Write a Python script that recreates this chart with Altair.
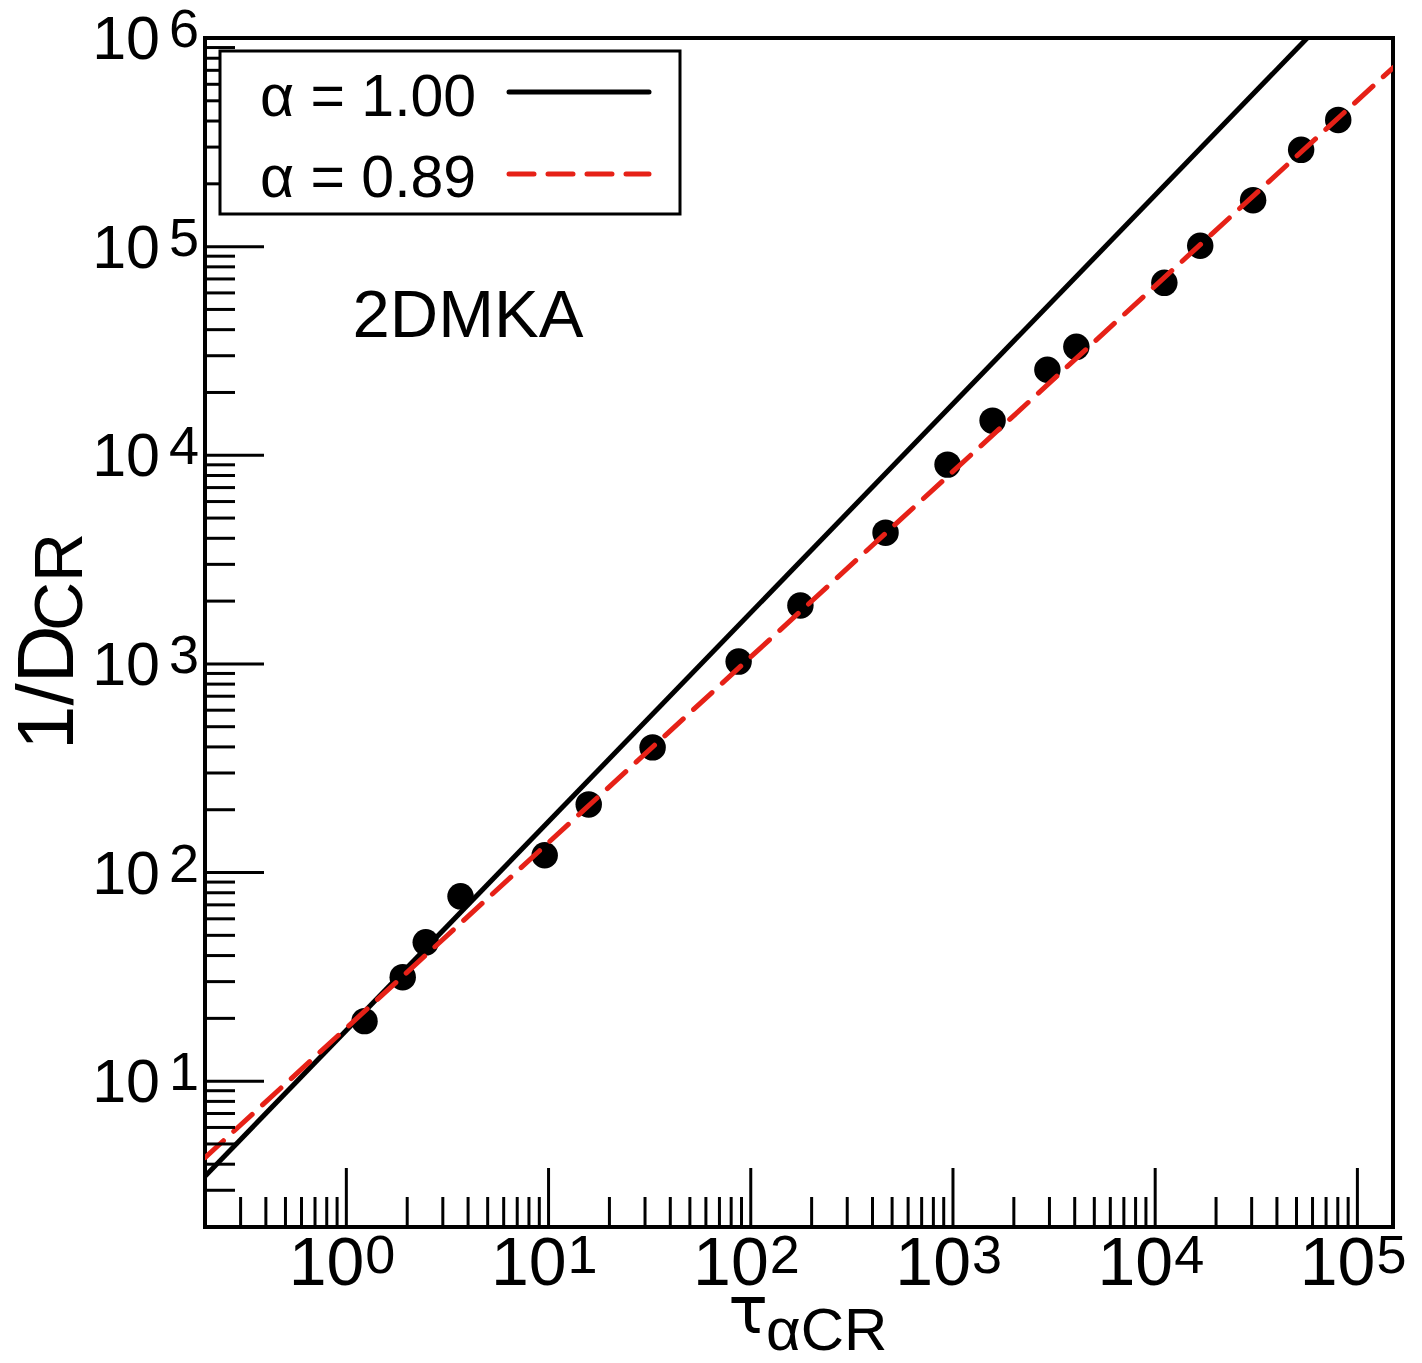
import altair as alt
import pandas as pd

FONT = "Liberation Sans"
W, H = 1188, 1189

# ---- data ----
tau = [1.23, 1.90, 2.47, 3.67, 9.57, 15.8, 32.7, 87.1, 176, 464, 940, 1570,
       2930, 4075, 11100, 16700, 30500, 52700, 80400]
inv_d = [19.4, 31.5, 46.3, 76.9, 121, 212, 398, 1026, 1905, 4256, 9020, 14660,
         25700, 33100, 67100, 101000, 167000, 291000, 405000]

fit1_x = [0.2, 56500]
fit1_y = [3.5, 1.0e6]
fit2_x = [0.2, 1.5e5]
fit2_y = [4.3, 7.2e5]

x_major = [1, 10, 100, 1000, 10000, 100000]
x_exp = ["0", "1", "2", "3", "4", "5"]
x_minor = [m * 10 ** e for e in range(-1, 5) for m in range(2, 10)]
y_major = [10, 100, 1000, 10000, 100000, 1000000]
y_exp = ["1", "2", "3", "4", "5", "6"]
y_minor = [m * 10 ** e for e in range(0, 6) for m in range(2, 10)]

legend_labels = ["α = 1.00", "α = 0.89"]
annotation = "2DMKA"

RED = "#e62117"

xs = alt.Scale(type="log", domain=[0.2, 1.5e5], nice=False)
ys = alt.Scale(type="log", domain=[2, 1e6], nice=False)

pts = pd.DataFrame({"x": tau, "y": inv_d})
f1 = pd.DataFrame({"x": fit1_x, "y": fit1_y})
f2 = pd.DataFrame({"x": fit2_x, "y": fit2_y})
xmaj = pd.DataFrame({"v": x_major, "e": x_exp})
ymaj = pd.DataFrame({"v": y_major, "e": y_exp})
xmin = pd.DataFrame({"v": [v for v in x_minor if 0.2 <= v <= 1.5e5]})
ymin = pd.DataFrame({"v": [v for v in y_minor if 2 <= v <= 1e6]})
one = pd.DataFrame({"a": [0]})

X = lambda f: alt.X(f, scale=xs, axis=None)
Y = lambda f: alt.Y(f, scale=ys, axis=None)

points = alt.Chart(pts).mark_circle(size=700, color="black", opacity=1).encode(
    x=X("x:Q"), y=Y("y:Q"))
line1 = alt.Chart(f1).mark_line(color="black", strokeWidth=5, clip=True).encode(
    x=X("x:Q"), y=Y("y:Q"))
line2 = alt.Chart(f2).mark_line(color=RED, strokeWidth=5, clip=True,
                                strokeDash=[25, 14], strokeCap="round").encode(
    x=X("x:Q"), y=Y("y:Q"))

# ticks (inward)
xtick_maj = alt.Chart(xmaj).mark_rule(color="black", strokeWidth=3).encode(
    x=X("v:Q"), y=alt.value(H), y2=alt.value(H - 59))
xtick_min = alt.Chart(xmin).mark_rule(color="black", strokeWidth=3).encode(
    x=X("v:Q"), y=alt.value(H), y2=alt.value(H - 30))
ytick_maj = alt.Chart(ymaj).mark_rule(color="black", strokeWidth=3).encode(
    y=Y("v:Q"), x=alt.value(0), x2=alt.value(59))
ytick_min = alt.Chart(ymin).mark_rule(color="black", strokeWidth=3).encode(
    y=Y("v:Q"), x=alt.value(0), x2=alt.value(30))

# tick labels
xlab10 = alt.Chart(xmaj).mark_text(text="10", align="right", baseline="alphabetic",
                                   dx=18, fontSize=68, font=FONT, color="black").encode(
    x=X("v:Q"), y=alt.value(H + 58))
xlabe = alt.Chart(xmaj).mark_text(align="left", baseline="alphabetic",
                                  dx=19, fontSize=54, font=FONT, color="black").encode(
    x=X("v:Q"), y=alt.value(H + 46), text="e:N")
ylab10 = alt.Chart(ymaj).mark_text(text="10", align="right", baseline="alphabetic",
                                   dy=21, fontSize=61, font=FONT, color="black").encode(
    y=Y("v:Q"), x=alt.value(-45))
ylabe = alt.Chart(ymaj).mark_text(align="right", baseline="alphabetic",
                                  dy=9, fontSize=54, font=FONT, color="black").encode(
    y=Y("v:Q"), x=alt.value(-6), text="e:N")

# axis titles
xt_main = alt.Chart(one).mark_text(text="τ", align="right", baseline="alphabetic",
                                   fontSize=66, font="DejaVu Sans", color="black").encode(
    x=alt.value(563), y=alt.value(H + 106))
xt_sub = alt.Chart(one).mark_text(text="αCR", align="left", baseline="alphabetic",
                                  fontSize=60, font=FONT, color="black").encode(
    x=alt.value(561), y=alt.value(H + 123))
yt_main = alt.Chart(one).mark_text(text="1/D", align="left", baseline="alphabetic",
                                   angle=270, fontSize=80, font=FONT, color="black").encode(
    x=alt.value(-132), y=alt.value(712))
yt_sub = alt.Chart(one).mark_text(text="CR", align="left", baseline="alphabetic",
                                  angle=270, fontSize=68, font=FONT, color="black").encode(
    x=alt.value(-123), y=alt.value(593))

# annotation
note = alt.Chart(one).mark_text(text=annotation, align="center", baseline="alphabetic",
                                fontSize=67, font=FONT, color="black").encode(
    x=alt.value(263), y=alt.value(299))

# legend
leg_box = alt.Chart(one).mark_rect(fill="white", stroke="black", strokeWidth=3).encode(
    x=alt.value(15), x2=alt.value(475), y=alt.value(13), y2=alt.value(176))
leg_df = pd.DataFrame({"label": legend_labels, "ty": [78, 159], "ly": [54, 136]})
leg_text = alt.Chart(leg_df).mark_text(align="left", baseline="alphabetic",
                                       fontSize=59, font=FONT, color="black").encode(
    x=alt.value(55), y=alt.Y("ty:Q", scale=None, axis=None), text="label:N")
leg_l1 = alt.Chart(leg_df.iloc[[0]]).mark_rule(color="black", strokeWidth=5,
                                               strokeCap="round").encode(
    x=alt.value(304), x2=alt.value(444), y=alt.Y("ly:Q", scale=None, axis=None))
leg_l2 = alt.Chart(leg_df.iloc[[1]]).mark_rule(color=RED, strokeWidth=5, strokeCap="round",
                                               strokeDash=[25, 14]).encode(
    x=alt.value(304), x2=alt.value(444), y=alt.Y("ly:Q", scale=None, axis=None))

chart = alt.layer(
    points, line1, line2,
    xtick_min, xtick_maj, ytick_min, ytick_maj,
    xlab10, xlabe, ylab10, ylabe,
    xt_main, xt_sub, yt_main, yt_sub, note,
    leg_box, leg_text, leg_l1, leg_l2,
).resolve_scale(y="independent").properties(
    width=W, height=H,
    autosize=alt.AutoSizeParams(type="none"),
    padding={"left": 197, "top": 30, "right": 21, "bottom": 128},
).configure_view(stroke="black", strokeWidth=4)

chart.save("out.html", embed_options={"renderer": "svg", "actions": False})
